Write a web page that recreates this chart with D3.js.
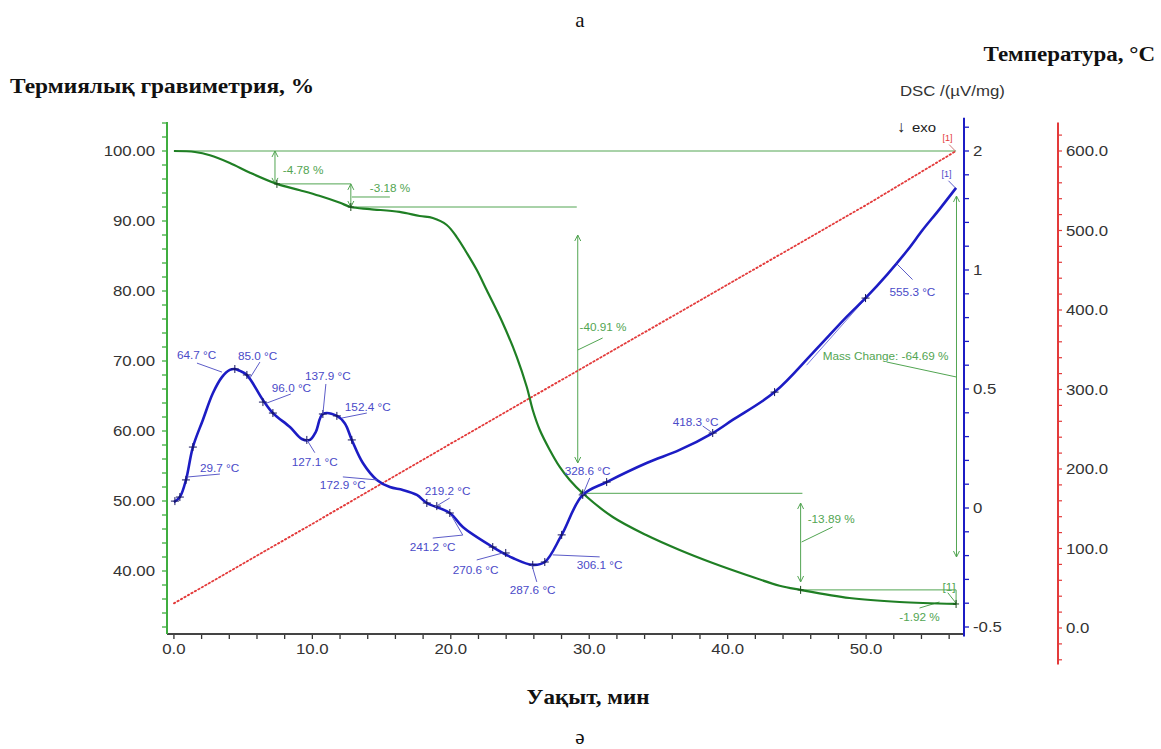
<!DOCTYPE html>
<html><head><meta charset="utf-8">
<script src="https://cdn.jsdelivr.net/npm/d3@7"></script>
<style>body{margin:0;background:#fff}svg{display:block}</style>
</head><body>
<svg id="c" width="1161" height="749"></svg>
<script>
// ---------- DATA ----------
const tgTime  = [0, 1.52, 2.6, 4.04, 5.5, 7.44, 9.1, 10.5, 12.0, 12.78, 14.15, 16.3, 17.76, 18.7, 19.71, 20.43, 21.16, 21.88, 22.6, 23.75, 24.77, 25.49, 25.92, 26.43, 27.15, 27.87, 28.59, 29.53, 31.7, 34.15, 36.53, 38.92, 41.37, 43.75, 45.27, 48.8, 52.42, 56.5];
const tgValue = [100, 99.86, 99.4, 98.3, 96.9, 95.3, 94.4, 93.6, 92.6, 92.0, 91.7, 91.3, 90.71, 90.43, 89.43, 87.71, 85.43, 83.0, 80.1, 75.43, 70.57, 66.29, 63.0, 60.14, 57.29, 54.86, 53.0, 51.1, 47.71, 45.1, 43.0, 41.14, 39.43, 37.9, 37.3, 36.14, 35.57, 35.29];

const dscTime  = [0.0, 0.43, 0.87, 1.37, 2.09, 2.82, 3.47, 4.04, 4.40, 4.77, 5.27, 6.43, 7.15, 8.38, 9.24, 9.82, 10.25, 10.76, 11.77, 12.35, 12.85, 13.65, 14.66, 15.6, 16.53, 17.55, 18.27, 19.93, 20.87, 23.03, 24.48, 25.92, 26.79, 28.01, 29.53, 31.26, 34.15, 36.53, 38.92, 40.36, 43.39, 46.14, 48.59, 50.04, 51.55, 53.0, 54.08, 55.31, 56.5];
const dscValue = [0.025, 0.046, 0.118, 0.256, 0.370, 0.483, 0.550, 0.580, 0.584, 0.576, 0.559, 0.454, 0.399, 0.340, 0.290, 0.286, 0.320, 0.395, 0.387, 0.355, 0.286, 0.189, 0.118, 0.088, 0.076, 0.055, 0.021, -0.021, -0.080, -0.164, -0.210, -0.239, -0.227, -0.113, 0.055, 0.109, 0.189, 0.244, 0.315, 0.370, 0.487, 0.651, 0.803, 0.887, 0.983, 1.084, 1.168, 1.256, 1.345];

const tempTime  = [0, 10, 20, 30, 40, 50, 56.5];
const tempValue = [31, 131, 232, 332, 432, 532, 600];

const xTickValues = [0, 10, 20, 30, 40, 50];
const xTickLabels = ["0.0", "10.0", "20.0", "30.0", "40.0", "50.0"];
const tgTickValues = [40, 50, 60, 70, 80, 90, 100];
const tgTickLabels = ["40.00", "50.00", "60.00", "70.00", "80.00", "90.00", "100.00"];
const dscTickValues = [-0.5, 0, 0.5, 1, 1.5];
const dscTickLabels = ["-0.5", "0", "0.5", "1", "2"];
const tempTickValues = [0, 100, 200, 300, 400, 500, 600];
const tempTickLabels = ["0.0", "100.0", "200.0", "300.0", "400.0", "500.0", "600.0"];

// DSC peak labels: anchor (t,v), leader end offset, text offset (px)
const dscLabels = [
  {text:"29.7 °C",  t:0.94,  v:0.130,  lx:33,  ly:-3,  tx:13,  ty:-5},
  {text:"64.7 °C",  t:3.47,  v:0.571,  lx:-25, ly:-9,  tx:-45, ty:-13},
  {text:"85.0 °C",  t:5.49,  v:0.546,  lx:10,  ly:-16, tx:-12, ty:-18},
  {text:"96.0 °C",  t:6.71,  v:0.441,  lx:24,  ly:-9,  tx:5,   ty:-11},
  {text:"127.1 °C", t:9.6,   v:0.287,  lx:8,   ly:13,  tx:-15, ty:26},
  {text:"137.9 °C", t:10.76, v:0.395,  lx:3,   ly:-30, tx:-18, ty:-34},
  {text:"152.4 °C", t:12.13, v:0.378,  lx:25,  ly:-5,  tx:3,   ty:-7},
  {text:"172.9 °C", t:14.66, v:0.118,  lx:-34, ly:-3,  tx:-57, ty:9},
  {text:"219.2 °C", t:18.84, v:0.004,  lx:15,  ly:-9,  tx:-10, ty:-12},
  {text:"241.2 °C", t:20.07, v:-0.034, lx:11,  ly:19,  tx:-42, ty:35, lx2:-19, ly2:22},
  {text:"270.6 °C", t:23.75, v:-0.189, lx:-26, ly:7,   tx:-50, ty:21},
  {text:"287.6 °C", t:25.85, v:-0.239, lx:5,   ly:17,  tx:-22, ty:29},
  {text:"306.1 °C", t:27.36, v:-0.197, lx:47,  ly:2,   tx:24,  ty:14},
  {text:"328.6 °C", t:29.53, v:0.055,  lx:7,   ly:-17, tx:-18, ty:-20},
  {text:"418.3 °C", t:38.92, v:0.315,  lx:-10, ly:-7,  tx:-40, ty:-7},
  {text:"555.3 °C", t:52.2,  v:1.027,  lx:16,  ly:16,  tx:-7,  ty:32}
];
const dscMarkT = [0.07, 0.43, 0.87, 1.37, 4.40, 5.27, 6.43, 7.15, 9.6, 10.76, 11.77, 12.85, 18.27, 18.99, 19.93, 23.03, 23.97, 25.92, 26.79, 28.01, 29.53, 31.26, 38.92, 43.39, 49.96];
const dscMarkV = [0.029, 0.046, 0.118, 0.256, 0.584, 0.559, 0.445, 0.399, 0.286, 0.395, 0.387, 0.286, 0.021, 0.008, -0.021, -0.164, -0.189, -0.239, -0.227, -0.113, 0.055, 0.109, 0.315, 0.487, 0.882];
const tgMarkT = [7.44, 12.78, 29.53, 45.27, 56.5];
const tgMarkV = [95.3, 92.0, 51.1, 37.3, 35.29];

// TG step annotations (data units)
const tgLines = [ // [t1,v1,t2,v2]
  [0.43, 100, 56.5, 100],
  [7.3, 95.3, 12.78, 95.3],
  [12.78, 92.0, 29.1, 92.0],
  [29.53, 51.1, 45.4, 51.1],
  [45.27, 37.3, 56.5, 37.3],
  [56.5, 37.3, 56.5, 35.3],
  [12.85, 93.43, 15.6, 93.43],
  [29.17, 71.57, 30.97, 73.29],
  [45.34, 44.14, 47.58, 46.29],
  [53.86, 34.71, 55.3, 35.57],
  [51.48, 69.86, 56.53, 67.71],
  [55.9, 36.9, 56.5, 35.4]
];
const tgArrows = [ // [t, vTop, vBottom]
  [7.3, 100, 95.3],
  [12.78, 95.3, 92.0],
  [29.17, 88.0, 55.43],
  [45.27, 49.71, 38.43],
  [56.53, 93.57, 42.0]
];
const tgTexts = [
  {text:"-4.78 %", t:7.87, v:96.71},
  {text:"-3.18 %", t:14.15, v:94.14},
  {text:"-40.91 %", t:29.3, v:74.29},
  {text:"-13.89 %", t:45.78, v:46.86},
  {text:"[1]", t:55.52, v:37.14},
  {text:"-1.92 %", t:52.4, v:32.86},
  {text:"Mass Change: -64.69 %", t:46.86, v:70.14}
];

// ---------- SCALES ----------
const svg = d3.select("#c");
const x = d3.scaleLinear().domain([-0.5, 57]).range([167, 963]);
const yTG = d3.scaleLinear().domain([31, 104.1429]).range([634, 122]);
const yDSC = d3.scaleLinear().domain([-0.5, 1.5]).range([627, 151]);
const yT = d3.scaleLinear().domain([0, 600]).range([628, 151]);

const cTG = "#1f7f24", cAnn = "#52a552", cAxisG = "#3fae3f";
const cDSC = "#1c1cc4", cDSCtxt = "#4a4ac8", cRed = "#e33a3a";
const sans = "'Liberation Sans', Arial, sans-serif";
const serif = "'Liberation Serif', 'Times New Roman', serif";
const SX = 1.2;

function stext(g, str, px, py, opts) {
  return g.append("text")
    .attr("transform", `translate(${px},${py}) scale(${opts.sx || 1},1)`)
    .attr("font-family", opts.family || sans)
    .attr("font-size", opts.size || 14)
    .attr("font-weight", opts.weight || "normal")
    .attr("fill", opts.fill || "#222")
    .attr("text-anchor", opts.anchor || "start")
    .text(str);
}

// ---------- TITLES ----------
stext(svg, "а", 580, 27, {family: serif, size: 21, fill:"#111", anchor:"middle"});
stext(svg, "Термиялық гравиметрия, %", 10, 93, {family: serif, size: 20, weight:"bold", fill:"#111", sx:1.17});
stext(svg, "Температура, °C", 1155, 61, {family: serif, size: 20, weight:"bold", fill:"#111", anchor:"end", sx:1.15});
stext(svg, "DSC /(µV/mg)", 900, 96, {size: 14, fill:"#333", sx:1.2});
stext(svg, "↓", 897, 132, {size: 16, fill:"#222"});
stext(svg, "exo", 912, 132, {size: 13, fill:"#222", sx:1.15});
stext(svg, "Уақыт, мин", 588, 704, {family: serif, size: 20, weight:"bold", fill:"#111", anchor:"middle", sx:1.15});
stext(svg, "ə", 580, 744, {family: serif, size: 21, fill:"#111", anchor:"middle"});

// ---------- AXES ----------
const ax = svg.append("g");
const xMinor = d3.range(0, 57, 2);
ax.selectAll(".xm").data(xMinor).join("line")
  .attr("x1", d => x(d)).attr("x2", d => x(d)).attr("y1", 634).attr("y2", 639)
  .attr("stroke", "#333").attr("stroke-width", 1.3);
ax.append("line").attr("x1", x(-0.5)).attr("x2", x(57)).attr("y1", 634).attr("y2", 634)
  .attr("stroke", "#444").attr("stroke-width", 2);
xTickValues.forEach((v, i) => stext(ax, xTickLabels[i], x(v), 654, {size: 14, anchor:"middle", sx:SX, fill:"#333"}));

const tgMinor = d3.range(32, 105, 2);
ax.selectAll(".ym").data(tgMinor).join("line")
  .attr("x1", 162).attr("x2", 167).attr("y1", d => yTG(d)).attr("y2", d => yTG(d))
  .attr("stroke", cAxisG).attr("stroke-width", 1.3);
ax.append("line").attr("x1", 167).attr("x2", 167).attr("y1", yTG(104.1429)).attr("y2", yTG(31))
  .attr("stroke", cAxisG).attr("stroke-width", 2);
tgTickValues.forEach((v, i) => stext(ax, tgTickLabels[i], 155, yTG(v) + 5, {size: 14, anchor:"end", sx:SX, fill:"#333"}));

const dscMinor = d3.range(-5, 17).map(d => d / 10);
ax.selectAll(".dm").data(dscMinor).join("line")
  .attr("x1", 964).attr("x2", 969).attr("y1", d => yDSC(d)).attr("y2", d => yDSC(d))
  .attr("stroke", cDSC).attr("stroke-width", 1.3);
ax.append("line").attr("x1", 964).attr("x2", 964).attr("y1", yDSC(1.64)).attr("y2", yDSC(-0.54))
  .attr("stroke", cDSC).attr("stroke-width", 2);
dscTickValues.forEach((v, i) => stext(ax, dscTickLabels[i], 973, yDSC(v) + 5, {size: 14, sx:SX, fill:"#333"}));

const tMinor = d3.range(-40, 621, 20);
ax.selectAll(".tm").data(tMinor).join("line")
  .attr("x1", 1058).attr("x2", 1062).attr("y1", d => yT(d)).attr("y2", d => yT(d))
  .attr("stroke", cRed).attr("stroke-width", 1.2);
ax.append("line").attr("x1", 1058).attr("x2", 1058).attr("y1", yT(636)).attr("y2", yT(-46))
  .attr("stroke", cRed).attr("stroke-width", 2);
tempTickValues.forEach((v, i) => stext(ax, tempTickLabels[i], 1066, yT(v) + 5, {size: 14, sx:SX, fill:"#333"}));

// ---------- TG annotations ----------
const ann = svg.append("g");
tgLines.forEach(l => ann.append("line")
  .attr("x1", x(l[0])).attr("y1", yTG(l[1])).attr("x2", x(l[2])).attr("y2", yTG(l[3]))
  .attr("stroke", cAnn).attr("stroke-width", 1));
function arrowHead(g, px, py, dir, col) {
  g.append("path").attr("d", `M${px-3},${py - dir*6} L${px},${py} L${px+3},${py - dir*6}`)
    .attr("fill", "none").attr("stroke", col).attr("stroke-width", 1);
}
tgArrows.forEach(a => {
  const px = x(a[0]), y1 = yTG(a[1]), y2 = yTG(a[2]);
  ann.append("line").attr("x1", px).attr("x2", px).attr("y1", y1).attr("y2", y2)
    .attr("stroke", cAnn).attr("stroke-width", 1);
  arrowHead(ann, px, y1, -1, cAnn);
  arrowHead(ann, px, y2, 1, cAnn);
});
tgTexts.forEach(d => stext(ann, d.text, x(d.t), yTG(d.v), {size: 10.5, fill: cAnn, sx: 1.12}));

// ---------- Temperature line ----------
svg.append("path")
  .attr("d", d3.line().x((d, i) => x(tempTime[i])).y(d => yT(d))(tempValue))
  .attr("fill", "none").attr("stroke", cRed).attr("stroke-width", 1.8)
  .attr("stroke-dasharray", "1.5,2.5").attr("stroke-linecap", "round");
stext(svg, "[1]", x(55.52), yT(612.6), {size: 9, fill: cRed});
svg.append("line").attr("x1", x(56.0)).attr("y1", yT(608)).attr("x2", x(56.45)).attr("y2", yT(600))
  .attr("stroke", "#c77").attr("stroke-width", 1);

// ---------- TG curve ----------
svg.append("path")
  .attr("d", d3.line().curve(d3.curveCatmullRom.alpha(0.5)).x((d, i) => x(tgTime[i])).y(d => yTG(d))(tgValue))
  .attr("fill", "none").attr("stroke", cTG).attr("stroke-width", 2.2);
tgMarkT.forEach((t, i) => {
  const px = x(t), py = yTG(tgMarkV[i]);
  svg.append("path").attr("d", `M${px},${py-4}V${py+4}M${px-3},${py}H${px+3}`)
    .attr("stroke", "#1a4a1a").attr("stroke-width", 1);
});

// ---------- DSC curve ----------
const dg = svg.append("g");
dg.append("line").attr("x1", x(45.7)).attr("y1", yDSC(0.6)).attr("x2", x(52.2)).attr("y2", yDSC(1.027))
  .attr("stroke", "#7a7ae0").attr("stroke-width", 1);
dg.append("path")
  .attr("d", d3.line().curve(d3.curveCatmullRom.alpha(0.5)).x((d, i) => x(dscTime[i])).y(d => yDSC(d))(dscValue))
  .attr("fill", "none").attr("stroke", cDSC).attr("stroke-width", 2.6);
dscMarkT.forEach((t, i) => {
  const px = x(t), py = yDSC(dscMarkV[i]);
  dg.append("path").attr("d", `M${px},${py-4}V${py+4}M${px-4},${py}H${px+4}`)
    .attr("stroke", "#151560").attr("stroke-width", 1);
});
dscLabels.forEach(d => {
  const px = x(d.t), py = yDSC(d.v);
  let path = `M${px},${py}L${px + d.lx},${py + d.ly}`;
  if (d.lx2 !== undefined) path += `L${px + d.lx2},${py + d.ly2}`;
  dg.append("path").attr("d", path).attr("fill", "none").attr("stroke", "#5c5cc8").attr("stroke-width", 1);
  stext(dg, d.text, px + d.tx, py + d.ty, {size: 10.5, fill: cDSCtxt, sx: 1.12});
});
stext(dg, "[1]", x(55.45), yDSC(1.391), {size: 9, fill: cDSCtxt});
dg.append("line").attr("x1", x(55.95)).attr("y1", yDSC(1.375)).attr("x2", x(56.45)).attr("y2", yDSC(1.345))
  .attr("stroke", "#5c5cc8").attr("stroke-width", 1);
</script>
</body></html>
